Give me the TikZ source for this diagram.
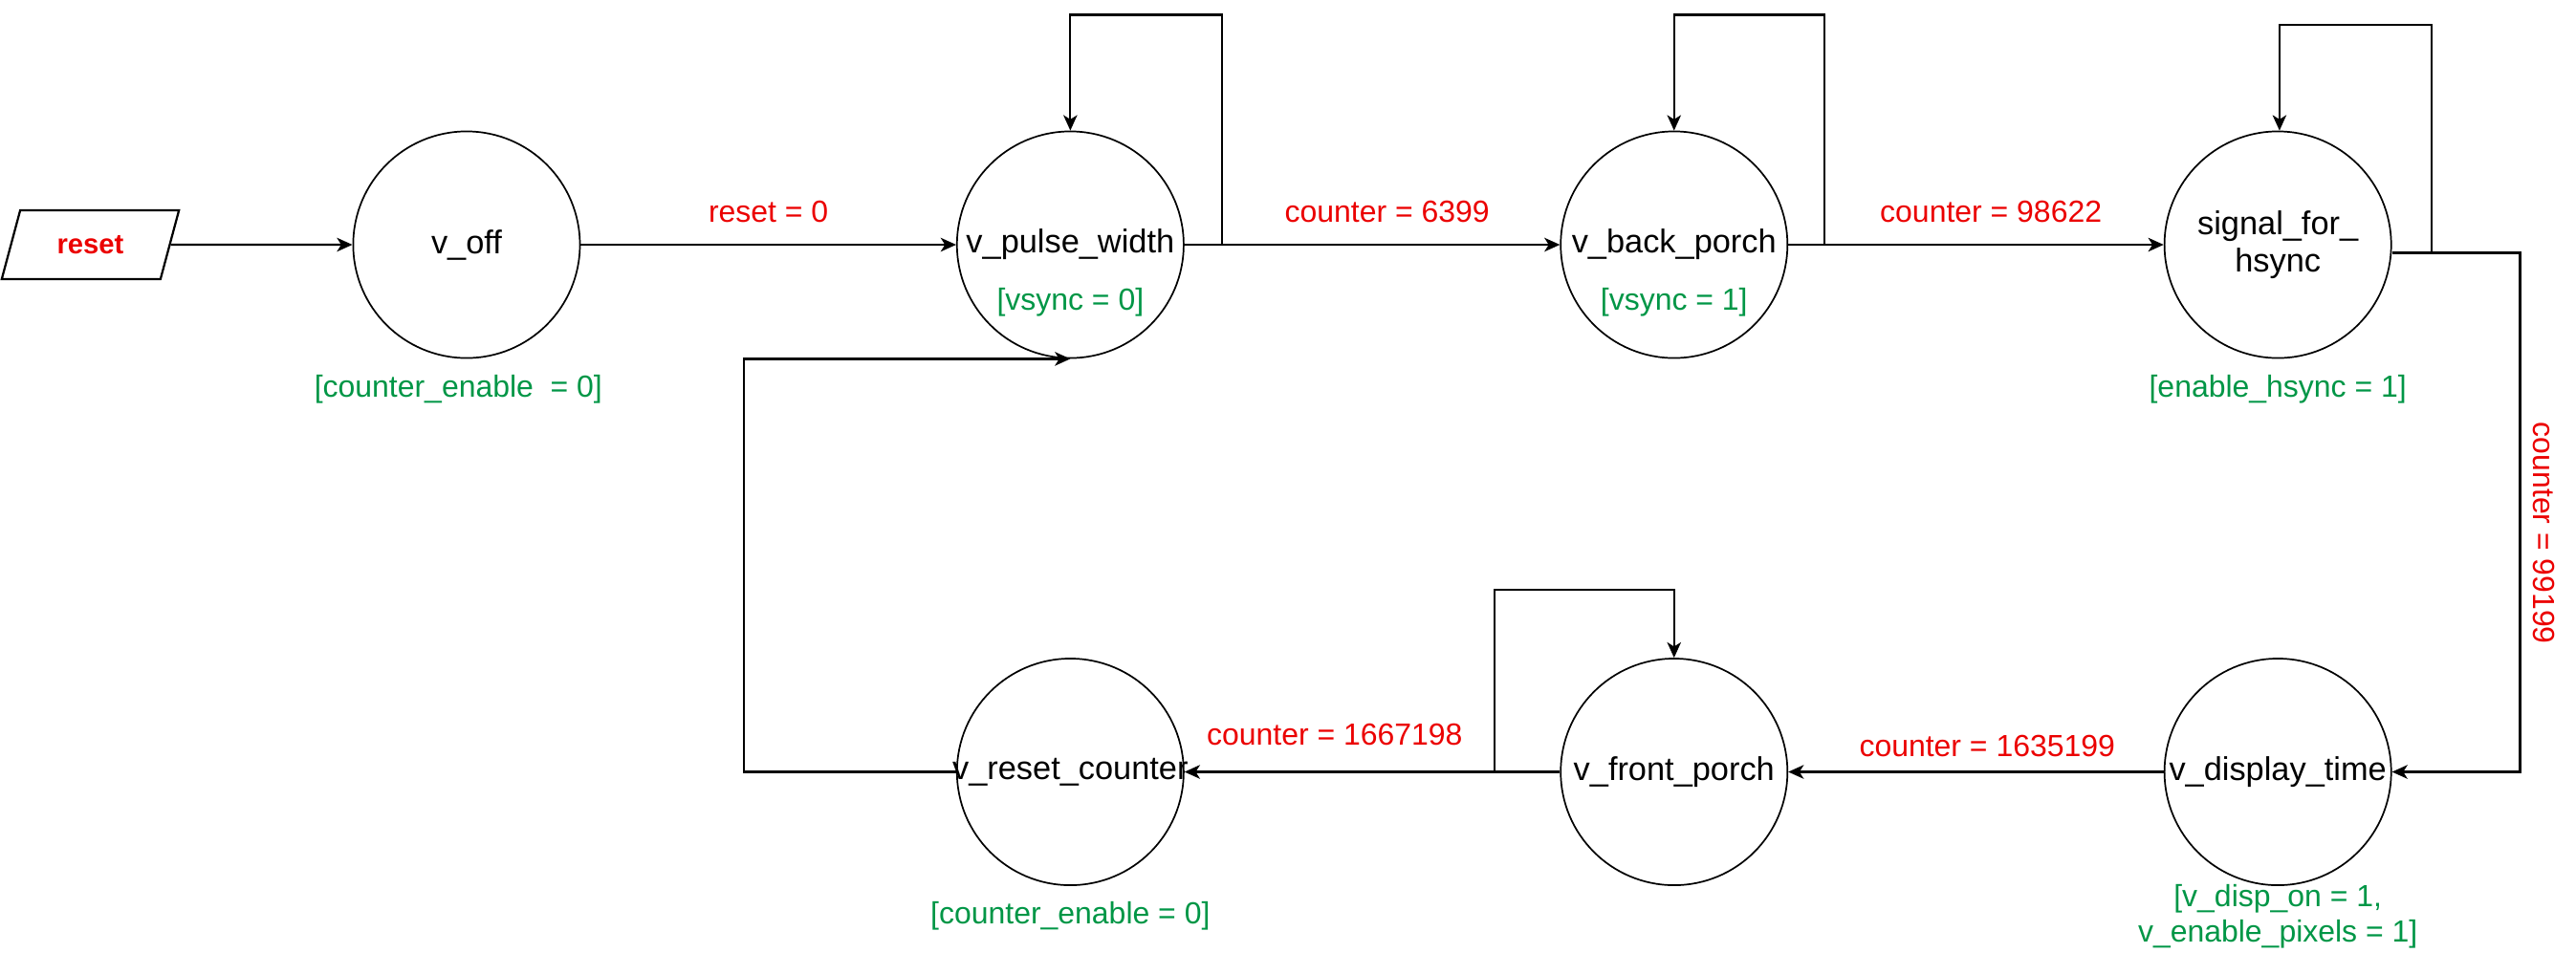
\documentclass[tikz,border=0pt]{standalone}
\usepackage{fontspec}
\setmainfont{Liberation Sans}
\usepackage{tikz}
\usetikzlibrary{positioning,shapes.geometric,arrows.meta}
\definecolor{condred}{RGB}{235,0,0}
\definecolor{outgreen}{RGB}{0,150,70}
\tikzset{
    vstate/.style={circle,draw,line width=0.5pt,minimum size=69pt,inner sep=-2pt,align=center,font=\fontsize{10}{11.5}\selectfont},
    cond/.style={text=condred,inner sep=1pt,font=\fontsize{9.3}{11}\selectfont},
    outp/.style={text=outgreen,inner sep=1pt,align=center,font=\fontsize{9.3}{11}\selectfont},
    arr/.style={-{Stealth[length=4.7pt,width=4.2pt,inset=1.3pt]},line width=0.65pt}
}

\begin{document}
\begin{tikzpicture}[node distance=91pt and 114.25pt]
        \useasboundingbox (-142pt,74.5pt) rectangle (642pt,-215.35pt);
        \node[vstate] (voff) {v\_off};
        \node[vstate,right=of voff] (vpw) {v\_pulse\_width};
        \node[vstate,right=of vpw] (vbp) {v\_back\_porch};
        \node[vstate,right=of vbp] (hsync) {signal\_for\_\\hsync};
        \node[vstate,below=of hsync] (vdt) {v\_display\_time};
        \node[vstate,left=of vdt] (vfp) {v\_front\_porch};
        \node[vstate,left=of vfp] (vrc) {v\_reset\_counter};
        \node[trapezium,trapezium left angle=64.5,trapezium right angle=115.5,trapezium stretches=true,
            draw,line width=0.65pt,minimum width=54pt,minimum height=21pt,inner sep=0pt,
            text=condred,font=\fontsize{8.5}{10}\selectfont\bfseries] (reset) at (-114.5pt,0) {reset};
        \node[outp] (voffout) at ([shift={(-2.5pt,-44pt)}]voff.center) {[counter\_enable\ \ = 0]};
        \node[outp] (vpwout) at ([yshift=-17.5pt]vpw.center) {[vsync = 0]};
        \node[outp] (vbpout) at ([yshift=-17.5pt]vbp.center) {[vsync = 1]};
        \node[outp] (hsyncout) at ([yshift=-44pt]hsync.center) {[enable\_hsync = 1]};
        \node[outp] (vrcout) at ([yshift=-44pt]vrc.center) {[counter\_enable = 0]};
        \node[outp] (vdtout) at ([yshift=-44pt]vdt.center) {[v\_disp\_on = 1,\\v\_enable\_pixels = 1]};
        \draw[arr] (reset) -- (voff);
        \draw[arr] (voff) -- node[cond,midway,yshift=10pt] {reset = 0} (vpw);
        \draw[arr] (vpw) -- node[cond,pos=0.54,yshift=10pt] {counter = 6399} (vbp);
        \draw[arr] (vbp) -- node[cond,pos=0.54,yshift=10pt] {counter = 98622} (hsync);
        \draw[arr] ([yshift=-2.5pt]hsync.east) -- ++(39pt,0) coordinate (hturn)
            -- node[cond,pos=0.54,rotate=-90,anchor=south,inner ysep=3.5pt] {counter = 99199} (hturn |- vdt.east) -- (vdt.east);
        \draw[arr] (vdt) -- node[cond,pos=0.47,yshift=8pt] {counter = 1635199} (vfp);
        \draw[arr] (vfp) -- node[cond,pos=0.6,yshift=11.5pt] {counter = 1667198} (vrc);
        \draw[arr] (vrc.west) -- ++(-64.5pt,0) |- (vpw.south);
        \draw[arr] ([xshift=11.5pt]vpw.east) -- ++(0,70pt) -| (vpw.north);
        \draw[arr] ([xshift=11pt]vbp.east) -- ++(0,70pt) -| (vbp.north);
        \draw[arr] ([shift={(12pt,-2.5pt)}]hsync.east) -- ++(0,69.5pt) -| ([xshift=0.5pt]hsync.north);
        \draw[arr] ([xshift=-20pt]vfp.west) -- ++(0,55.5pt) -| (vfp.north);
    \end{tikzpicture}
\end{document}
